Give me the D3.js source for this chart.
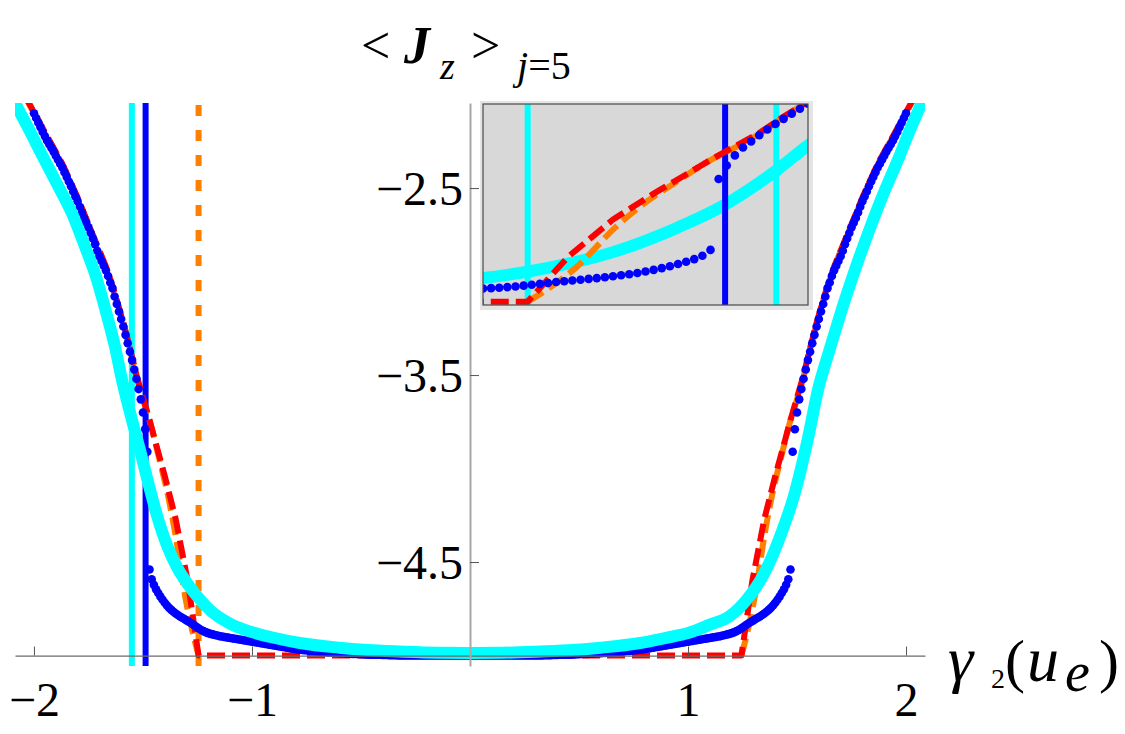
<!DOCTYPE html>
<html>
<head>
<meta charset="utf-8">
<script src="https://cdn.jsdelivr.net/npm/d3@7"></script>
<style>
    body { margin: 0; background: #fff; }
    svg { display: block; }
    text { font-family: "Liberation Serif", "Times New Roman", serif; fill: #000; }
</style>
</head>
<body>
<svg id="chart" width="1125" height="734"></svg>
<script>
// ---- values ----
var xTicks = [-2, -1, 1, 2];
var yTicks = [-2.5, -3.5, -4.5];

var xDomain = [-2.087, 2.087];
var yDomain = [-5.056, -2.045];
var insetXDomain = [1.19, 1.59];
var insetYDomain = [-5.03, -3.243];

// blue dots: sampled every 0.01 in |gamma|, same values on both sides
var blueStep = 0.01;
var blueOuterStart = 1.48;
var blueOuterY = [
    -3.91, -3.79, -3.70, -3.63, -3.575, -3.52, -3.47, -3.42, -3.375, -3.33,
    -3.285, -3.24, -3.20, -3.16, -3.12, -3.08, -3.035, -3.005, -2.97, -2.94,
    -2.915, -2.89, -2.865, -2.835, -2.80, -2.77, -2.74, -2.71, -2.685, -2.66,
    -2.63, -2.60, -2.57, -2.545, -2.518, -2.49, -2.465, -2.44, -2.415, -2.39,
    -2.37, -2.348, -2.327, -2.305, -2.285, -2.265, -2.245, -2.222, -2.20, -2.175,
    -2.15, -2.125, -2.10
];
var blueInnerY = [
    -5, -5, -5, -5, -5, -5, -5, -5, -5, -5,
    -5, -5, -5, -5, -5, -5, -5, -5, -5, -5,
    -5, -5, -5, -5, -5, -5, -5, -5, -5, -5,
    -4.999, -4.999, -4.999, -4.999, -4.998, -4.998, -4.998, -4.998, -4.997, -4.997,
    -4.997, -4.996, -4.996, -4.996, -4.995, -4.995, -4.995, -4.994, -4.994, -4.993,
    -4.993, -4.992, -4.992, -4.991, -4.991, -4.990, -4.990, -4.989, -4.988, -4.988,
    -4.987, -4.986, -4.986, -4.985, -4.984, -4.983, -4.982, -4.981, -4.980, -4.979,
    -4.978, -4.977, -4.976, -4.975, -4.974, -4.972, -4.971, -4.970, -4.968, -4.967,
    -4.965, -4.963, -4.962, -4.960, -4.958, -4.956, -4.954, -4.952, -4.950, -4.948,
    -4.946, -4.944, -4.942, -4.940, -4.938, -4.936, -4.934, -4.932, -4.930, -4.928,
    -4.926, -4.924, -4.922, -4.920, -4.918, -4.916, -4.914, -4.912, -4.910, -4.908,
    -4.906, -4.904, -4.902, -4.900, -4.898, -4.896, -4.893, -4.890, -4.887, -4.884,
    -4.880, -4.876, -4.871, -4.865, -4.858, -4.850, -4.842, -4.834, -4.826, -4.819,
    -4.812, -4.805, -4.798, -4.791, -4.783, -4.775, -4.766, -4.756, -4.745, -4.732,
    -4.718, -4.702, -4.685, -4.666, -4.646, -4.622, -4.592, -4.540
];

var cyanCurve = [
    [-2.12, -1.97], [-2.087, -2.045], [-2.03, -2.17], [-1.982, -2.28], [-1.90, -2.465],
    [-1.826, -2.634], [-1.77, -2.80], [-1.711, -2.99], [-1.67, -3.16], [-1.628, -3.35],
    [-1.596, -3.527], [-1.555, -3.72], [-1.514, -3.90], [-1.475, -4.08], [-1.436, -4.25],
    [-1.39, -4.41], [-1.344, -4.527], [-1.29, -4.625], [-1.239, -4.70], [-1.19, -4.76],
    [-1.10, -4.83], [-1.00, -4.875], [-0.90, -4.905], [-0.78, -4.933], [-0.60, -4.958],
    [-0.45, -4.972], [-0.30, -4.980], [-0.15, -4.985], [0, -4.986],
    [0.15, -4.985], [0.30, -4.980], [0.45, -4.972], [0.60, -4.958], [0.78, -4.933],
    [0.90, -4.905], [1.00, -4.88], [1.10, -4.835], [1.19, -4.79], [1.27, -4.70],
    [1.35, -4.56], [1.43, -4.34], [1.485, -4.15], [1.55, -3.84], [1.596, -3.58],
    [1.64, -3.40], [1.683, -3.235], [1.729, -3.065], [1.78, -2.89], [1.835, -2.714],
    [1.894, -2.537], [1.959, -2.36], [2.018, -2.19], [2.055, -2.09], [2.12, -1.92]
];

var redCurve = [
    [-2.10, -1.88], [-2.03, -2.03], [-1.96, -2.18], [-1.87, -2.37], [-1.80, -2.55],
    [-1.73, -2.75], [-1.67, -2.92], [-1.63, -3.06], [-1.59, -3.22], [-1.56, -3.355],
    [-1.53, -3.50], [-1.50, -3.62], [-1.47, -3.74], [-1.44, -3.87], [-1.40, -4.04],
    [-1.35, -4.27], [-1.295, -4.60], [-1.245, -5.0],
    [1.245, -5.0], [1.295, -4.60], [1.35, -4.27], [1.40, -4.04], [1.44, -3.87],
    [1.47, -3.74], [1.50, -3.62], [1.53, -3.50], [1.56, -3.355], [1.59, -3.22],
    [1.63, -3.06], [1.67, -2.92], [1.73, -2.75], [1.80, -2.55], [1.87, -2.37],
    [1.96, -2.18], [2.03, -2.03], [2.10, -1.88]
];

var orangeLeft = [
    [-2.10, -1.885], [-2.03, -2.035], [-1.96, -2.185], [-1.87, -2.375], [-1.80, -2.555],
    [-1.73, -2.755], [-1.67, -2.925], [-1.63, -3.065], [-1.59, -3.225], [-1.56, -3.36],
    [-1.53, -3.51], [-1.50, -3.63], [-1.468, -3.75], [-1.427, -3.94], [-1.386, -4.14],
    [-1.353, -4.34], [-1.304, -4.70], [-1.263, -4.92], [-1.245, -5.0]
];
var orangeRight = [
    [1.245, -5.0], [1.263, -4.92], [1.304, -4.70], [1.353, -4.34], [1.386, -4.14],
    [1.427, -3.94], [1.468, -3.75], [1.50, -3.63], [1.53, -3.51], [1.56, -3.36],
    [1.59, -3.225], [1.63, -3.065], [1.67, -2.925], [1.73, -2.755], [1.80, -2.555],
    [1.87, -2.375], [1.96, -2.185], [2.03, -2.035], [2.10, -1.885]
];

// vertical marker lines: cyan, blue, orange
var vlineNames = ["cyan", "blue", "orange"];
var mainVlineX = [-1.551, -1.488, -1.245];
var insetVlineX = [1.551, 1.488, 1.245];

// ---- drawing ----
var svg = d3.select("#chart");

var x = d3.scaleLinear().domain(xDomain).range([15, 925]);
var y = d3.scaleLinear().domain(yDomain).range([666, 103]);
var ix = d3.scaleLinear().domain(insetXDomain).range([483, 808]);
var iy = d3.scaleLinear().domain(insetYDomain).range([305, 104]);

var vlineStyle = {
    cyan:   { color: "#00ffff", dash: null },
    blue:   { color: "#0000ff", dash: null },
    orange: { color: "#ff8000", dash: "11,14" }
};

var defs = svg.append("defs");
defs.append("clipPath").attr("id", "clip-main")
    .append("rect").attr("x", 15).attr("y", 103).attr("width", 910).attr("height", 563);
defs.append("clipPath").attr("id", "clip-inset")
    .append("rect").attr("x", 483).attr("y", 104).attr("width", 325).attr("height", 201);

function bluePoints() {
    var pts = [];
    blueInnerY.forEach(function(v, i) {
        var g = i * blueStep;
        pts.push([g, v]);
        if (i > 0) pts.push([-g, v]);
    });
    blueOuterY.forEach(function(v, i) {
        var g = blueOuterStart + i * blueStep;
        pts.push([g, v]);
        pts.push([-g, v]);
    });
    return pts;
}

function drawVlines(g, xs, ys, values) {
    values.forEach(function(v, i) {
        var st = vlineStyle[vlineNames[i]];
        g.append("line")
            .attr("x1", xs(v)).attr("x2", xs(v))
            .attr("y1", ys.range()[0]).attr("y2", ys.range()[1])
            .attr("stroke", st.color)
            .attr("stroke-width", 6)
            .attr("stroke-dasharray", st.dash);
    });
}

function drawCurve(g, xs, ys, data, color, width, dash, curve) {
    var line = d3.line()
        .x(function(d) { return xs(d[0]); })
        .y(function(d) { return ys(d[1]); })
        .curve(curve || d3.curveLinear);
    g.append("path")
        .datum(data)
        .attr("d", line)
        .attr("fill", "none")
        .attr("stroke", color)
        .attr("stroke-width", width)
        .attr("stroke-linejoin", "round")
        .attr("stroke-dasharray", dash);
}

function drawDots(g, xs, ys, data) {
    g.selectAll("circle.blue-dot")
        .data(data)
        .enter()
        .append("circle")
        .attr("class", "blue-dot")
        .attr("cx", function(d) { return xs(d[0]); })
        .attr("cy", function(d) { return ys(d[1]); })
        .attr("r", 4.3)
        .attr("fill", "#0000ff");
}

var dots = bluePoints();

// main panel
var main = svg.append("g").attr("clip-path", "url(#clip-main)");
drawVlines(main, x, y, mainVlineX);
drawCurve(main, x, y, orangeLeft, "#ff8000", 6, "18,7", d3.curveMonotoneX);
drawCurve(main, x, y, orangeRight, "#ff8000", 6, "18,7", d3.curveMonotoneX);
drawCurve(main, x, y, redCurve, "#ff0000", 6, "18,7");
drawDots(main, x, y, dots);
drawCurve(main, x, y, cyanCurve, "#00ffff", 12, null, d3.curveMonotoneX);

// axes
var xAxis = d3.axisBottom(x)
    .tickValues(xTicks)
    .tickSize(-9)
    .tickSizeOuter(0)
    .tickFormat(d3.format("d"));
var gx = svg.append("g")
    .attr("class", "x-axis")
    .attr("transform", "translate(0," + y(-5) + ")")
    .call(xAxis);
gx.select(".domain").attr("stroke", "#6a6a6a").attr("stroke-width", 1.2);
gx.selectAll(".tick line").attr("stroke", "#555").attr("stroke-width", 1);
gx.selectAll(".tick text")
    .attr("y", 60).attr("dy", 0)
    .attr("font-size", 48)
    .attr("font-family", "Liberation Serif, serif")
    .attr("fill", "#000");

var yAxis = d3.axisLeft(y)
    .tickValues(yTicks)
    .tickSize(-9)
    .tickSizeOuter(0)
    .tickPadding(7)
    .tickFormat(d3.format(".1f"));
var gy = svg.append("g")
    .attr("class", "y-axis")
    .attr("transform", "translate(" + x(0) + ",0)")
    .call(yAxis);
gy.select(".domain").attr("stroke", "#a8a8a8").attr("stroke-width", 2);
gy.selectAll(".tick line").attr("stroke", "#555").attr("stroke-width", 1);
gy.selectAll(".tick text")
    .attr("dy", "0.34em")
    .attr("font-size", 48)
    .attr("font-family", "Liberation Serif, serif")
    .attr("fill", "#000");

// inset
var inset = svg.append("g").attr("class", "inset");
inset.append("rect")
    .attr("x", 480).attr("y", 101).attr("width", 333).attr("height", 209)
    .attr("fill", "#e4e4e4");
inset.append("rect")
    .attr("x", 483).attr("y", 104).attr("width", 325).attr("height", 201)
    .attr("fill", "#d8d8d8");
var insetPlot = inset.append("g").attr("clip-path", "url(#clip-inset)");
drawVlines(insetPlot, ix, iy, insetVlineX.slice(2));
drawCurve(insetPlot, ix, iy, cyanCurve, "#00ffff", 12, null, d3.curveMonotoneX);
drawVlines(insetPlot, ix, iy, []);
insetVlineX.slice(0, 2).forEach(function(v, i) {
    insetPlot.append("line")
        .attr("x1", ix(v)).attr("x2", ix(v))
        .attr("y1", 305).attr("y2", 104)
        .attr("stroke", vlineStyle[vlineNames[i]].color)
        .attr("stroke-width", 6);
});
drawCurve(insetPlot, ix, iy, orangeRight, "#ff8000", 6, "18,7", d3.curveMonotoneX);
drawCurve(insetPlot, ix, iy, redCurve, "#ff0000", 6, "18,7");
drawDots(insetPlot, ix, iy, dots);
inset.append("rect")
    .attr("x", 483).attr("y", 104).attr("width", 325).attr("height", 201)
    .attr("fill", "none").attr("stroke", "#4a4a4a").attr("stroke-width", 1.2);

// title  <J_z>_{j=5}
var title = svg.append("g").attr("class", "title");
title.append("text").attr("x", 361).attr("y", 63).attr("font-size", 52).text("<");
title.append("text").attr("x", 404).attr("y", 63).attr("font-size", 52)
    .attr("font-style", "italic").attr("font-weight", "bold").text("J");
title.append("text").attr("x", 440).attr("y", 79).attr("font-size", 38)
    .attr("font-style", "italic").text("z");
title.append("text").attr("x", 471).attr("y", 63).attr("font-size", 52).text(">");
var sub = title.append("text").attr("x", 517).attr("y", 79).attr("font-size", 40);
sub.append("tspan").attr("font-style", "italic").text("j");
sub.append("tspan").text("=5");

// x axis label  gamma_2(u_e)
var xl = svg.append("g").attr("class", "x-label");
xl.append("text").attr("x", 948).attr("y", 680).attr("font-size", 64)
    .attr("font-style", "italic").text("γ");
xl.append("text").attr("x", 991).attr("y", 688).attr("font-size", 28).text("2");
xl.append("text").attr("x", 1005).attr("y", 681).attr("font-size", 60).text("(");
xl.append("text").attr("x", 1027).attr("y", 681).attr("font-size", 64)
    .attr("font-style", "italic").text("u");
xl.append("text").attr("x", 1065).attr("y", 691).attr("font-size", 56)
    .attr("font-style", "italic").text("e");
xl.append("text").attr("x", 1099).attr("y", 681).attr("font-size", 60).text(")");
</script>
</body>
</html>
